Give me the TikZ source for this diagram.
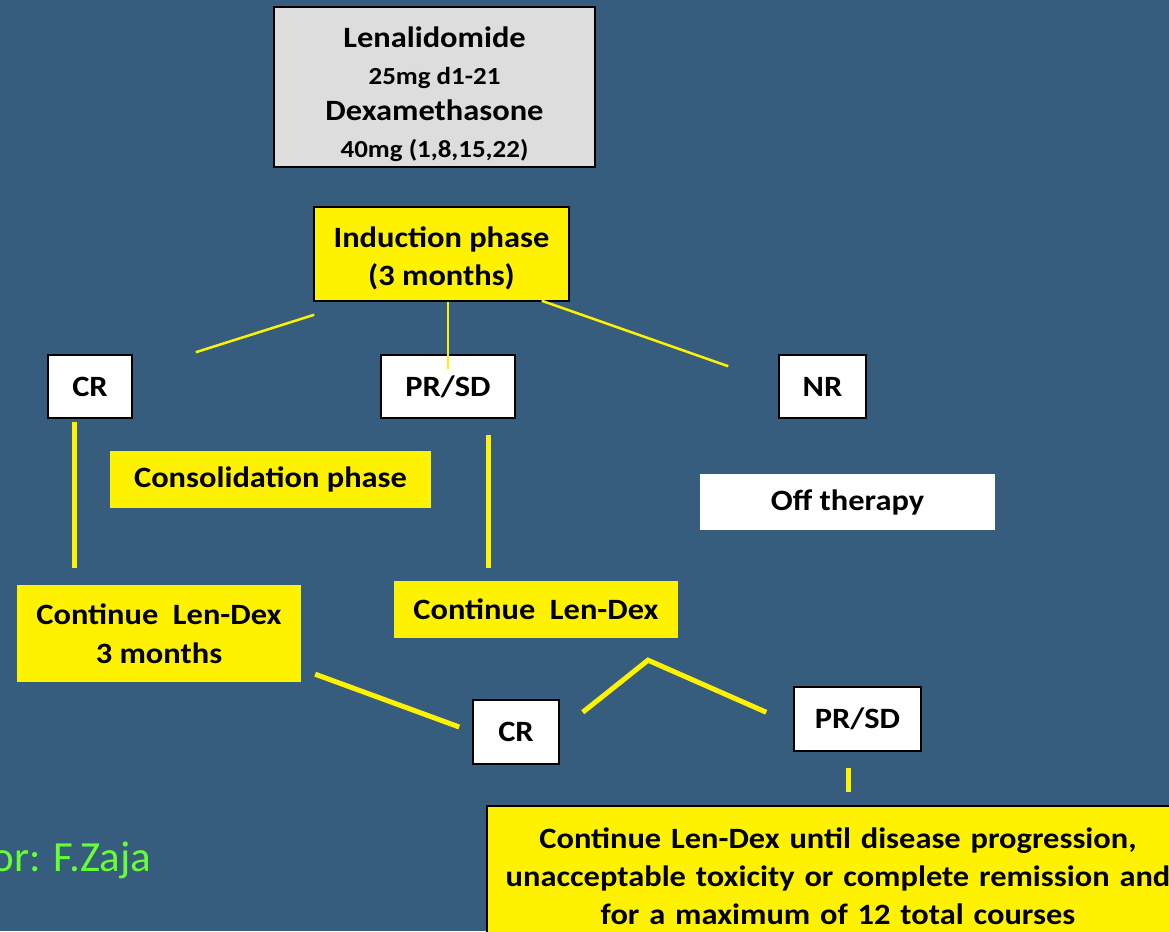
\documentclass[tikz,border=0pt]{standalone}
\usepackage{fontspec}
\setmainfont{Carlito}[FakeStretch=1.1]
\newfontfamily\plainfont{Carlito}
\usetikzlibrary{positioning}
\definecolor{slidebg}{RGB}{55,93,126}
\definecolor{boxgrey}{RGB}{221,221,221}
\definecolor{zajagreen}{RGB}{102,255,51}
\tikzstyle{drugbox} = [rectangle, draw=black, line width=1.5pt, fill=boxgrey, text centered, align=center, font=\bfseries\fontsize{29.5}{36.5}\selectfont]
\tikzstyle{phase} = [rectangle, draw=black, line width=1.5pt, fill=yellow, text centered, align=center, font=\bfseries\fontsize{29.5}{38}\selectfont]
\tikzstyle{resp} = [rectangle, draw=black, line width=1.5pt, fill=white, text centered, font=\bfseries\fontsize{29.5}{38}\selectfont]
\tikzstyle{tag} = [rectangle, fill=yellow, text centered, align=center, font=\bfseries\fontsize{29.5}{39}\selectfont]
\tikzstyle{thinlink} = [yellow, line width=2.5pt]
\tikzstyle{thicklink} = [yellow, line width=5pt]

\begin{document}
\begin{tikzpicture}[x=1pt, y=-1pt]

\fill [slidebg] (0,0) rectangle (1169,931);
\clip (0,0) rectangle (1169,931);

% Treatment
\node [drugbox, minimum width=321, minimum height=160] (drug) at (434.5,87) {\rule{0pt}{35pt}Lenalidomide\\ {\fontsize{24.5}{36.5}\selectfont 25mg d1-21}\\ Dexamethasone\\ {\fontsize{24.5}{36.5}\selectfont 40mg (1,8,15,22)}};
\node [phase, minimum width=255, minimum height=94] (induct) at (441.5,254) {\rule{0pt}{30pt}Induction phase\\ (3 months)};

% First response
\node [resp, minimum width=84, minimum height=63] (cr1) at (90,386.5) {CR};
\node [resp, minimum width=134, minimum height=63] (prsd1) at (448,386.5) {PR/SD};
\node [resp, minimum width=87, minimum height=63] (nr) at (822.5,386.5) {NR};

% Phases
\node [tag, minimum width=321, minimum height=57] (consol) at (270.5,479.5) {Consolidation phase};
\node [tag, fill=white, minimum width=295, minimum height=56] (offther) at (847.5,502) {Off therapy};
\node [tag, minimum width=284, minimum height=97] (contcr) at (159,633.5) {Continue\ \ Len-Dex\\ 3 months};
\node [tag, minimum width=284, minimum height=57] (contpr) at (536,609.5) {Continue\ \ Len-Dex};

% Second response
\node [resp, minimum width=86, minimum height=64] (cr2) at (516,732) {CR};
\node [resp, minimum width=127, minimum height=64] (prsd2) at (857.5,719) {PR/SD};
\node [phase, minimum width=702, minimum height=140, text width=690] (final) at (838,876) {Continue Len-Dex until disease progression,\\ unacceptable toxicity or complete remission and\\ for a maximum of 12 total courses};

\node [anchor=east, text=zajagreen, font=\plainfont\fontsize{43}{50}\selectfont] (zaja) at (155,860) {or: F.Zaja};

% Links
\draw [thinlink] ([shift={(1,13)}]induct.south west) -- ([shift={(63,-2)}]cr1.north east);
\draw [thinlink] ([yshift=-15]prsd1.north) -- (prsd1.north |- induct.south);
\draw [thinlink] ([shift={(-28,-1)}]induct.south east) -- ([shift={(-50,12)}]nr.north west);
\draw [thicklink] ([shift={(-16,3)}]cr1.south) -- ([shift={(-16,-17)}]cr1.south |- contcr.north);
\draw [thicklink] ([shift={(40,16)}]prsd1.south) -- ([shift={(40,-13)}]prsd1.south |- contpr.north);
\draw [thicklink] ([shift={(14,-8)}]contcr.south east) -- ([shift={(-13,-5)}]cr2.west);
\draw [thicklink] ([shift={(23,13)}]cr2.north east) -- ([shift={(112,22)}]contpr.south) -- ([shift={(-27,26)}]prsd2.north west);
\draw [thicklink] ([shift={(-9,16)}]prsd2.south) -- ([shift={(-9,-13)}]prsd2.south |- final.north);

\end{tikzpicture}
\end{document}
